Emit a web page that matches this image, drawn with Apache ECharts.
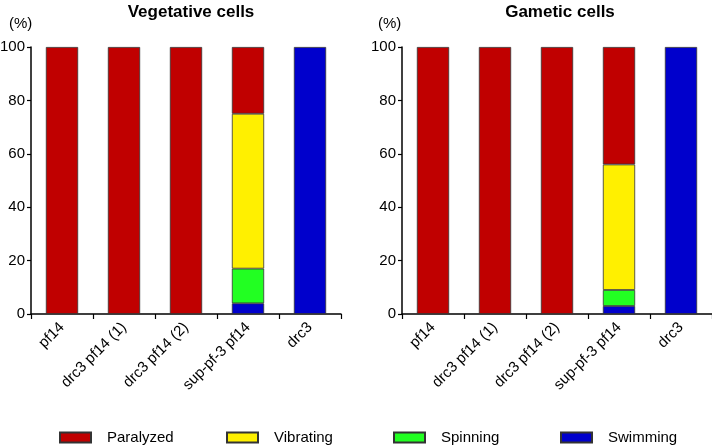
<!DOCTYPE html>
<html><head><meta charset="utf-8">
<script src="https://cdn.jsdelivr.net/npm/echarts@6/dist/echarts.min.js"></script>
<style>html,body{margin:0;padding:0;background:#fff}#c{width:712px;height:446px}</style>
</head><body><div id="c"></div>
<script>
var categories = ['pf14', 'drc3 pf14 (1)', 'drc3 pf14 (2)', 'sup-pf-3 pf14', 'drc3'];
var yTicks = [0, 20, 40, 60, 80, 100];
var seriesNames = ['Paralyzed', 'Vibrating', 'Spinning', 'Swimming'];
var vegParalyzed = [100, 100, 100, 25, 0];
var vegVibrating = [0, 0, 0, 58, 0];
var vegSpinning = [0, 0, 0, 13, 0];
var vegSwimming = [0, 0, 0, 4, 100];
var gamParalyzed = [100, 100, 100, 44, 0];
var gamVibrating = [0, 0, 0, 47, 0];
var gamSpinning = [0, 0, 0, 6, 0];
var gamSwimming = [0, 0, 0, 3, 100];

var colors = {Paralyzed: '#C00000', Vibrating: '#FFF000', Spinning: '#22FF22', Swimming: '#0000CC'};
var font = 'Liberation Sans, Arial, sans-serif';

function nz(a) { return a.map(function (v) { return v === 0 ? null : v; }); }

function mkX(i) {
  return {
    type: 'category', gridIndex: i, data: categories,
    axisLine: {lineStyle: {color: '#000', width: 1.5}},
    axisTick: {show: true, alignWithLabel: false, length: 5, lineStyle: {color: '#000', width: 1.2}},
    axisLabel: {rotate: 45, fontSize: 15, color: '#000', fontFamily: font, margin: 11}
  };
}
function mkY(i) {
  return {
    type: 'value', gridIndex: i, min: 0, max: 100, interval: 20,
    axisLine: {show: true, lineStyle: {color: '#000', width: 1.5}},
    axisTick: {show: true, length: 4, lineStyle: {color: '#000', width: 1.2}},
    splitLine: {show: false},
    axisLabel: {fontSize: 15, color: '#000', fontFamily: font, margin: 6,
      formatter: function (v) { return yTicks.indexOf(v) >= 0 ? String(v) : ''; }}
  };
}
function mkSeries(name, data, i) {
  return {
    name: name, type: 'bar', stack: 's' + i, xAxisIndex: i, yAxisIndex: i,
    data: nz(data), barWidth: '52%',
    itemStyle: {color: colors[name], borderColor: '#333', borderWidth: 0.8},
    emphasis: {disabled: true}
  };
}
var legendLefts = [59, 226, 393, 560];
function mkLegend(name, k) {
  return {
    data: [name], left: legendLefts[k], top: 430, padding: 0, itemWidth: 31, itemHeight: 10, icon: 'rect', selectedMode: false,
    textStyle: {fontSize: 15, color: '#000', fontFamily: font, padding: [0, 0, 0, 11]}
  };
}

var option = {
  animation: false,
  title: [
    {text: 'Vegetative cells', left: 186, top: -1, textAlign: 'center', textStyle: {fontSize: 17, fontWeight: 'bold', color: '#000', fontFamily: font}},
    {text: 'Gametic cells', left: 555, top: -1, textAlign: 'center', textStyle: {fontSize: 17, fontWeight: 'bold', color: '#000', fontFamily: font}},
    {text: '(%)', left: 4, top: 11, textStyle: {fontSize: 15, fontWeight: 'normal', color: '#000', fontFamily: font}},
    {text: '(%)', left: 373, top: 11, textStyle: {fontSize: 15, fontWeight: 'normal', color: '#000', fontFamily: font}}
  ],
  grid: [
    {left: 31, right: 371, top: 47, bottom: 132, containLabel: false, outerBoundsMode: 'none'},
    {left: 402, right: 0, top: 47, bottom: 132, containLabel: false, outerBoundsMode: 'none'}
  ],
  xAxis: [mkX(0), mkX(1)],
  yAxis: [mkY(0), mkY(1)],
  legend: seriesNames.map(mkLegend),
  series: [
    mkSeries('Swimming', vegSwimming, 0),
    mkSeries('Spinning', vegSpinning, 0),
    mkSeries('Vibrating', vegVibrating, 0),
    mkSeries('Paralyzed', vegParalyzed, 0),
    mkSeries('Swimming', gamSwimming, 1),
    mkSeries('Spinning', gamSpinning, 1),
    mkSeries('Vibrating', gamVibrating, 1),
    mkSeries('Paralyzed', gamParalyzed, 1)
  ]
};
echarts.init(document.getElementById('c')).setOption(option);
</script></body></html>
